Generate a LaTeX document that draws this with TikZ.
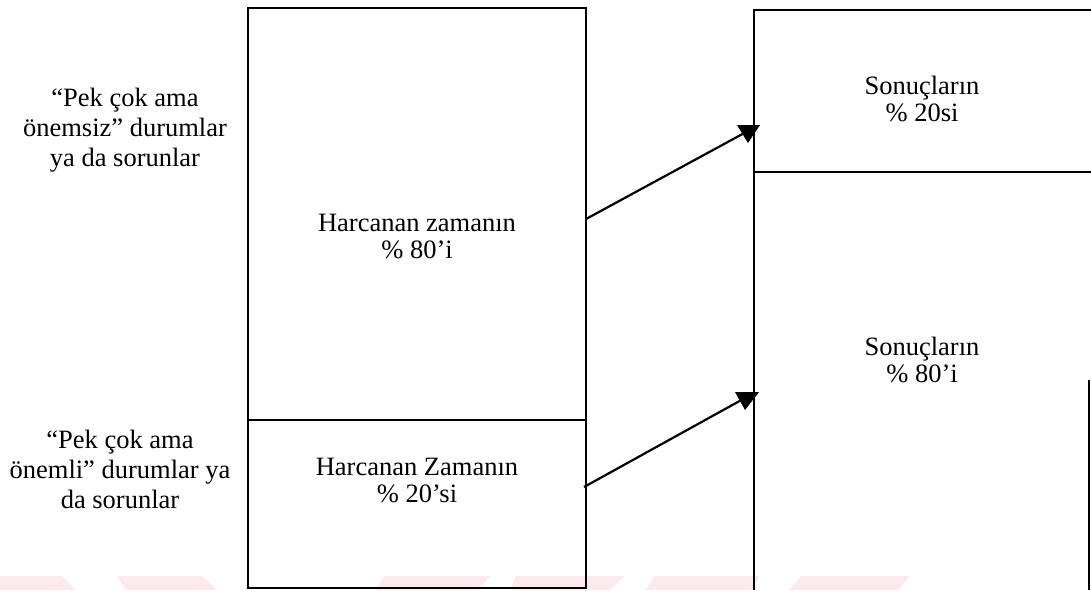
\documentclass[tikz,border=0pt]{standalone}
\usepackage{fontspec}
\setmainfont{Liberation Serif}
\usetikzlibrary{arrows.meta}
\begin{document}
\begin{tikzpicture}[x=1pt,y=-1pt,
  box/.style={draw,line width=1.8pt,inner sep=0pt},
  edge/.style={line width=1.8pt},
  lbl/.style={align=center,font=\fontsize{26.5}{27}\selectfont,inner sep=0pt},
  side/.style={align=center,font=\fontsize{26.5}{30}\selectfont,inner sep=0pt},
  conn/.style={line width=2.2pt},
  tiphead/.style={fill=black},
  wm/.style={fill={rgb,255:red,253;green,234;blue,238}}]
\useasboundingbox (0,0) rectangle (1091,590);
% faint watermark
\fill[wm] (0,576) -- (62,576) -- (76,590) -- (0,590) -- cycle;
\fill[wm] (117,576) -- (202,576) -- (217,590) -- (126,590) -- cycle;
\fill[wm] (384,576) -- (490,576) -- (478,590) -- (376,590) -- cycle;
\fill[wm] (516,576) -- (625,576) -- (610,590) -- (510,590) -- cycle;
\fill[wm] (654,576) -- (760,576) -- (751,590) -- (646,590) -- cycle;
\fill[wm] (801,576) -- (910,576) -- (898,590) -- (789,590) -- cycle;
% left column
\node[box,minimum width=338pt,minimum height=412pt] (t80) at (417,214) {};
\node[box,minimum width=338pt,minimum height=168pt] (t20) at (417,504) {};
\node[lbl] (l80) at (417,236) {Harcanan zamanın\\\% 80’i};
\node[lbl] (l20) at (417,480) {Harcanan Zamanın\\\% 20’si};
% side labels
\node[side] (sA) at (125,130) {“Pek çok ama\\önemsiz” durumlar\\ya da sorunlar};
\node[side] (sB) at (120,469) {“Pek çok ama\\önemli” durumlar ya\\da sorunlar};
% right column
\coordinate (rTL) at (754,10);
\coordinate (rTR) at (1091,10);
\coordinate (rBL) at (754,590);
\coordinate (rML) at (754,172);
\coordinate (rMR) at (1091,172);
\coordinate (rRa) at (1089,380);
\coordinate (rRb) at (1089,590);
\draw[edge] (rTR) -- (rTL) -- (rBL);
\draw[edge] (rML) -- (rMR);
\draw[edge] (rRa) -- (rRb);
\node[lbl] (r20) at (922,99) {Sonuçların\\\% 20si};
\node[lbl] (r80) at (922,360) {Sonuçların\\\% 80’i};
% connectors
\coordinate (a1) at (586,219);
\coordinate (b1) at (748,131);
\coordinate (a2) at (584,487);
\coordinate (b2) at (745,398);
\draw[conn] (a1) -- (b1);
\draw[conn] (a2) -- (b2);
\fill[tiphead] (737,125) -- (760,125) -- (748,143) -- cycle;
\fill[tiphead] (735,392) -- (759,392) -- (745,410) -- cycle;
\end{tikzpicture}
\end{document}
